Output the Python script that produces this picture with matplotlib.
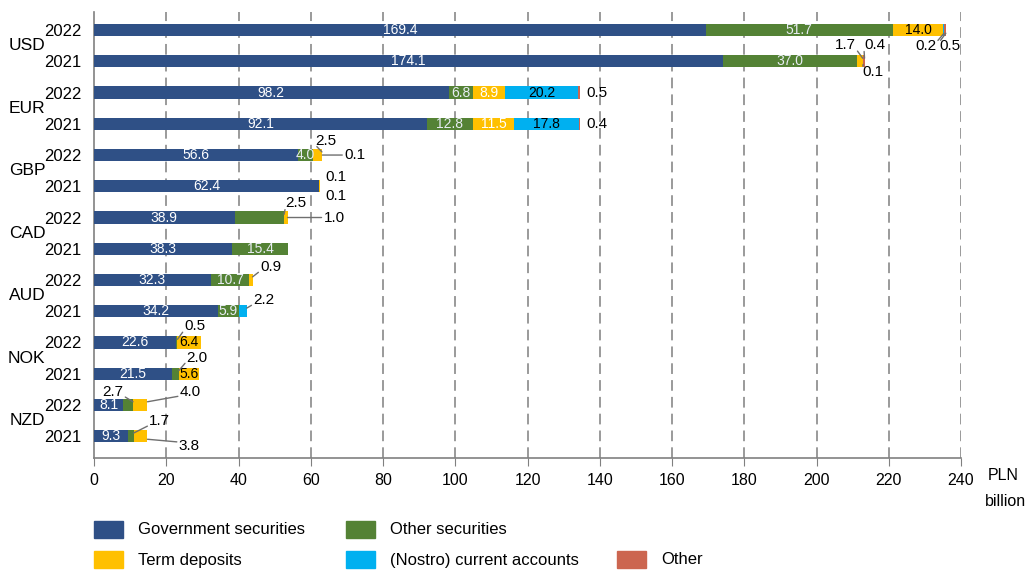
import matplotlib
matplotlib.use("Agg")
import numpy as np
import matplotlib.pyplot as plt
from matplotlib.patches import Rectangle

plt.rcParams['font.family'] = ['Liberation Sans', 'DejaVu Sans']

# ── data ────────────────────────────────────────────
currencies = ["USD", "EUR", "GBP", "CAD", "AUD", "NOK", "NZD"]
years = ["2022", "2021"]
series = ["Government securities", "Other securities", "Term deposits",
          "(Nostro) current accounts", "Other"]
colors = ["#2F5086", "#548235", "#FFC000", "#00B0F0", "#CC6650"]

# rows: USD22, USD21, EUR22, EUR21, GBP22, GBP21, CAD22, CAD21, AUD22, AUD21, NOK22, NOK21, NZD22, NZD21
gov_sec   = [169.4, 174.1, 98.2, 92.1, 56.6, 62.4, 38.9, 38.3, 32.3, 34.2, 22.6, 21.5, 8.1, 9.3]
other_sec = [51.7, 37.0, 6.8, 12.8, 4.0, 0.0, 13.7, 15.4, 10.7, 5.9, 0.5, 2.0, 2.7, 1.7]
term_dep  = [14.0, 1.7, 8.9, 11.5, 2.5, 0.1, 1.0, 0.0, 0.9, 0.0, 6.4, 5.6, 4.0, 3.8]
nostro    = [0.2, 0.1, 20.2, 17.8, 0.0, 0.0, 0.0, 0.0, 0.0, 2.2, 0.0, 0.0, 0.0, 0.0]
other     = [0.5, 0.4, 0.5, 0.4, 0.1, 0.1, 0.0, 0.0, 0.0, 0.0, 0.0, 0.0, 0.0, 0.0]

# outside labels: (row, segment, text, dx px, dy px from bar centre, leader)
outside = [
    (0, 3, "0.2", -18, -16, True), (0, 4, "0.5", 4, -16, True),
    (1, 2, "1.7", -17, 16, True), (1, 4, "0.4", 10, 16, True), (1, 3, "0.1", 10, -11, True),
    (2, 4, "0.5", 6, 0, False), (3, 4, "0.4", 6, 0, False),
    (4, 2, "2.5", 4, 14, True), (4, 4, "0.1", 22, 0, True),
    (5, 2, "0.1", 16, 9, False), (5, 4, "0.1", 16, -10, False),
    (6, 1, "2.5", 12, 14, True), (6, 2, "1.0", 36, 0, True),
    (8, 2, "0.9", 18, 13, True), (9, 3, "2.2", 17, 11, True),
    (10, 1, "0.5", 17, 16, True), (11, 1, "2.0", 18, 16, True),
    (12, 1, "2.7", -20, 13, True), (12, 2, "4.0", 43, 13, True),
    (13, 1, "1.7", 26, 15, True), (13, 2, "3.8", 42, -10, True),
]
ticks = list(range(0, 241, 20))

# ── figure ──────────────────────────────────────────
data = np.array([gov_sec, other_sec, term_dep, nostro, other])
nrows = data.shape[1]
rows = np.arange(nrows)

fig = plt.figure(figsize=(10.26, 5.82), dpi=100)
ax = fig.add_axes([94/1026, 1-458/582, 867/1026, 446/582])

left = np.zeros(nrows)
for i in range(len(series)):
    ax.barh(rows, data[i], left=left, height=0.39, color=colors[i], edgecolor="none", zorder=3)
    left += data[i]
cum = np.cumsum(data, axis=0)

skip = {(r, s) for r, s, *_ in outside}
label_col = ["white", "#E8ECF4", "black", "black", "black"]
for r in rows:
    for s in range(len(series)):
        v = data[s, r]
        if v >= 3.5 and (r, s) not in skip:
            c = label_col[s]
            if s == 2 and r in (2, 3):
                c = "white"
            ax.text(cum[s, r] - v/2, r, f"{v:.1f}", ha="center", va="center",
                    fontsize=10, color=c, zorder=4)

# leaders start at the text corner nearest the bar
for r, s, txt, dx, dy, lead in outside:
    if dy > 4:
        yy, off, ry = r - 0.1, dy - 3, 0.2
    elif dy < -4:
        yy, off, ry = r + 0.1, dy + 3, 0.8
    else:
        yy, off, ry = r, dy, 0.5
    rx = 0.0 if dx > 0 else 1.0
    ax.annotate(txt, xy=(cum[s, r], yy), xytext=(dx, off), textcoords="offset pixels",
                ha="center" if abs(dy) > 4 else "left", va="center", fontsize=11,
                arrowprops=dict(arrowstyle="-", color="#6F6F6F", lw=1.0, relpos=(rx, ry),
                                patchA=None, shrinkA=1.5, shrinkB=0) if lead else None,
                zorder=5)

ax.set_xlim(0, 240)
ax.set_ylim(13.7, -0.58)
for t in ticks[1:]:
    ax.axvline(t, color="#7F7F7F", lw=1.1, ls=(0, (7, 4)), zorder=1)
for sp in ["top", "right"]:
    ax.spines[sp].set_visible(False)
for sp in ["left", "bottom"]:
    ax.spines[sp].set_color("#808080")
    ax.spines[sp].set_linewidth(1.2)
ax.set_xticks(ticks)
ax.tick_params(axis="x", direction="out", length=6, color="#808080", pad=5, labelsize=11.5)
ax.set_yticks(rows)
ax.set_yticklabels([years[r % 2] for r in rows], fontsize=12)
ax.tick_params(axis="y", length=0, pad=9)
ytr = ax.get_yaxis_transform()
for i, c in enumerate(currencies):
    ax.text(-0.056, 2*i + 0.5, c, transform=ytr, ha="right", va="center", fontsize=12.5)

fig.text(988/1026, 1-476/582, "PLN", fontsize=11.5, va="center", ha="left")
fig.text(985/1026, 1-502/582, "billion", fontsize=11.5, va="center", ha="left")

# legend
leg = [(94, 530, 0), (346, 530, 1), (94, 560, 2), (346, 560, 3), (617, 560, 4)]
for x0, y0, i in leg:
    fig.patches.append(Rectangle((x0/1026, 1-(y0+8)/582), 29/1026, 17/582,
                                 transform=fig.transFigure, color=colors[i]))
    fig.text((x0+44)/1026, 1-y0/582, series[i], fontsize=12, va="center", ha="left")

fig.savefig("out.png", dpi=100)
